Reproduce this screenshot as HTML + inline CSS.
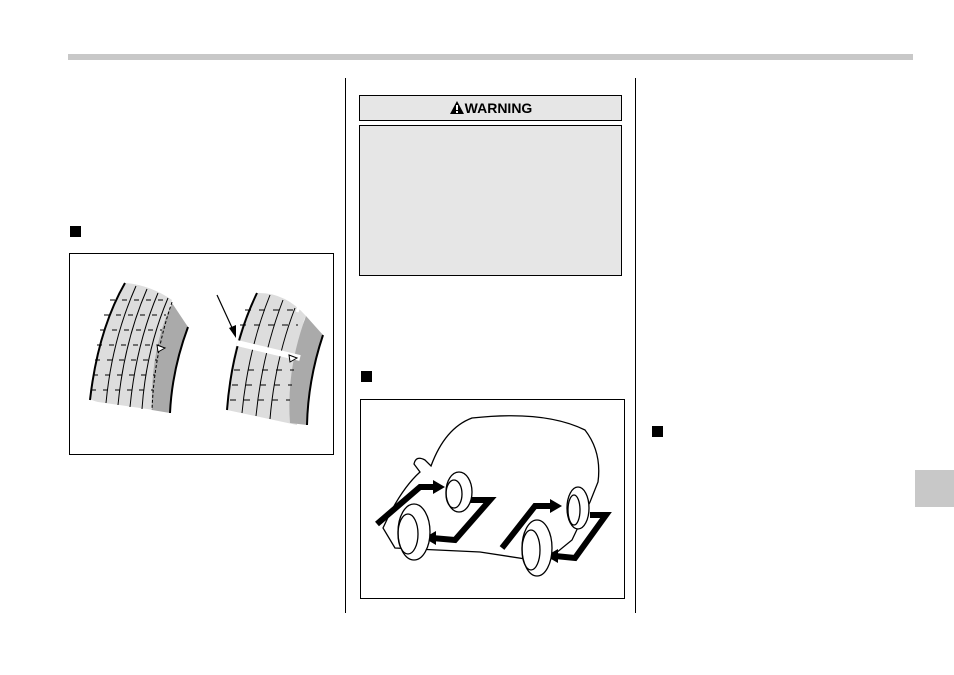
<!DOCTYPE html>
<html><head><style>
body{margin:0;width:954px;height:675px;background:#fff;position:relative;overflow:hidden;font-family:"Liberation Sans",sans-serif}
.a{position:absolute}
</style></head><body>
<div class="a" style="left:68px;top:54px;width:845px;height:6px;background:#c8c8c8"></div>
<div class="a" style="left:345px;top:78px;width:1px;height:535px;background:#000"></div>
<div class="a" style="left:635px;top:78px;width:1px;height:535px;background:#000"></div>
<div class="a" style="left:70px;top:226px;width:11px;height:11px;background:#000"></div>
<div class="a" style="left:361px;top:371px;width:11px;height:11px;background:#000"></div>
<div class="a" style="left:652px;top:426px;width:11px;height:11px;background:#000"></div>
<div class="a" style="left:915px;top:470px;width:39px;height:37px;background:#c8c8c8"></div>
<div class="a" style="left:359px;top:95px;width:261px;height:24px;border:1px solid #000;background:#e6e6e6;text-align:center;font-size:14px;font-weight:bold;line-height:24px">
<svg width="16" height="15" style="vertical-align:-2px"><polygon points="8,1 15,14 1,14" fill="#000"/><rect x="7" y="5" width="2" height="5" fill="#fff"/><rect x="7" y="11" width="2" height="2" fill="#fff"/></svg>WARNING</div>
<div class="a" style="left:359px;top:125px;width:261px;height:149px;border:1px solid #000;background:#e6e6e6"></div>
<div class="a" style="left:69px;top:253px;width:263px;height:200px;border:1px solid #000"></div>
<div class="a" style="left:360px;top:399px;width:263px;height:198px;border:1px solid #000"></div>
<svg class="a" style="left:0;top:0" width="954" height="675">
<!-- left tire -->
<path d="M125,283 Q150,285 172,300 L170,305 Q160,360 168,412 L98,402 Q90,400 90,398 Q98,330 125,283Z" fill="#ddd"/>
<path d="M172,303 L188,327 Q172,370 170,413 L152,410 Q150,350 172,303Z" fill="#aaa"/>
<path d="M125,283 Q98,330 90,400" fill="none" stroke="#000" stroke-width="2"/>
<path d="M188,327 Q172,370 170,413" fill="none" stroke="#000" stroke-width="2"/>
<g fill="none" stroke="#000" stroke-width="1">
<path d="M136,286 Q112,340 106,403"/><path d="M147,289 Q124,342 118,405"/><path d="M158,293 Q136,345 130,407"/><path d="M168,298 Q146,350 142,409"/><path d="M172,302 Q154,355 152,410" stroke-dasharray="3,2"/>
<path d="M110,300 h60 M104,315 h62 M100,330 h62 M97,345 h62 M95,360 h62 M93,375 h62 M91,390 h62" stroke-dasharray="5,7"/>
</g>
<path d="M157,345 l8,3 -7,4z" fill="#fff" stroke="#000"/>
<!-- right tire -->
<path d="M257,293 Q285,292 306,316 L304,320 Q292,370 297,425 L227,410 Q230,340 257,293Z" fill="#ddd"/>
<path d="M306,316 L323,335 Q308,380 307,425 L290,423 Q286,370 306,316Z" fill="#aaa"/>
<path d="M257,293 Q232,345 227,410" fill="none" stroke="#000" stroke-width="2"/>
<path d="M323,335 Q308,380 307,425" fill="none" stroke="#000" stroke-width="2"/>
<g fill="none" stroke="#000" stroke-width="1">
<path d="M270,295 Q248,350 242,413"/><path d="M283,300 Q262,355 256,416"/><path d="M295,308 Q275,360 270,419"/>
<path d="M245,310 h55 M240,325 h58 M234,370 h60 M232,385 h60 M230,400 h60" stroke-dasharray="6,8"/>
</g>
<path d="M237,343 L300,358" stroke="#fff" stroke-width="6"/>
<path d="M297,312 L303,295" stroke="#fff" stroke-width="3"/>
<path d="M289,355 l8,3 -7,4z" fill="#fff" stroke="#000"/>
<path d="M217,295 L234,332" stroke="#000" stroke-width="1.2"/><polygon points="236,338 229,328 236,325" fill="#000"/>
<!-- car -->
<path d="M395,548 L383,528 Q400,490 420,472 L414,464 Q416,455 425,460 L431,466 Q445,428 472,418 Q545,410 585,430 Q602,452 598,482 L590,502 L572,540 L545,562 L480,552 Z" fill="none" stroke="#000" stroke-width="1.3"/>
<g fill="none" stroke="#000" stroke-width="6" stroke-linejoin="miter">
<polyline points="377,524 420,487 435,487"/>
<polyline points="470,500 490,500 455,540 432,538"/>
<polyline points="502,548 535,506 552,506"/>
<polyline points="590,515 606,515 575,558 555,556"/>
</g>
<g fill="#000">
<polygon points="433,480 445,487 433,494"/><polygon points="436,531 424,538 436,545"/>
<polygon points="550,499 562,506 550,513"/><polygon points="558,549 546,556 558,563"/>
</g>
<g fill="#fff" stroke="#000" stroke-width="1.3">
<ellipse cx="459" cy="492" rx="13" ry="20"/><ellipse cx="454" cy="494" rx="8" ry="14" fill="none"/>
<ellipse cx="414" cy="532" rx="16" ry="28"/><ellipse cx="408" cy="534" rx="10" ry="20" fill="none"/>
<ellipse cx="578" cy="508" rx="11" ry="21"/><ellipse cx="574" cy="510" rx="6" ry="15" fill="none"/>
<ellipse cx="537" cy="548" rx="15" ry="28"/><ellipse cx="531" cy="550" rx="9" ry="20" fill="none"/>
</g>
</svg>
</body></html>
